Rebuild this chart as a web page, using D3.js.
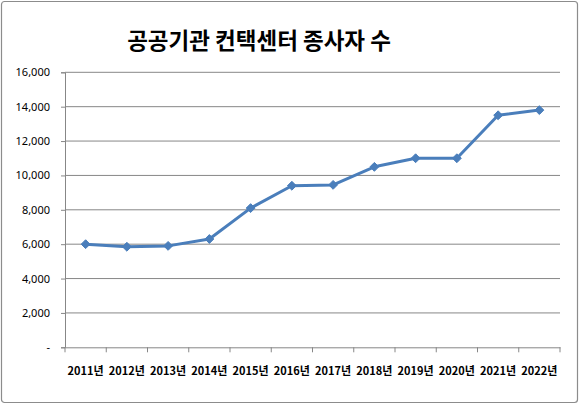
<!DOCTYPE html>
<html><head><meta charset="utf-8">
<script src="https://cdn.jsdelivr.net/npm/d3@7"></script>
<style>body{margin:0;background:#fff}svg{display:block}</style>
</head><body>
<svg id="c" width="580" height="405"></svg>
<script>
const years = ["2011년","2012년","2013년","2014년","2015년","2016년","2017년","2018년","2019년","2020년","2021년","2022년"];
const workers = [6000,5850,5900,6300,8100,9400,9450,10500,11000,11000,13500,13800];
const yTicks = [0,2000,4000,6000,8000,10000,12000,14000,16000];
const title = "공공기관 컨택센터 종사자 수";

const svg = d3.select("#c");
svg.append("rect").attr("x",1.5).attr("y",1.5).attr("width",576).attr("height",401)
  .attr("rx",3).attr("fill","#fff").attr("stroke","#8c8c8c").attr("stroke-width",1.2);

svg.append("text").attr("x",259).attr("y",49).attr("text-anchor","middle")
  .attr("font-family","'Noto Sans CJK KR'").attr("font-weight","bold").attr("font-size",22.5)
  .attr("fill","#000").text(title);

const L=65,R=560,T=72.3,B=347.3;
const x = d3.scaleBand().domain(years).range([L,R]);
const y = d3.scaleLinear().domain([0,16000]).range([B,T]);

const g = svg.append("g");
g.selectAll("line.grid").data(yTicks.filter(d=>d>0)).join("line")
  .attr("x1",L).attr("x2",R).attr("y1",d=>y(d)).attr("y2",d=>y(d))
  .attr("stroke","#878787").attr("stroke-width",1);

const yAxis = svg.append("g").attr("transform",`translate(${L},0)`)
  .call(d3.axisLeft(y).tickValues(yTicks).tickSize(4).tickPadding(11)
    .tickFormat(d=>d===0?"-":d3.format(",")(d)));
yAxis.selectAll("path,line").attr("stroke","#878787");
yAxis.selectAll("text").attr("font-family","'Noto Sans'").attr("font-size",11).attr("fill","#000");

const xAxis = svg.append("g").attr("transform",`translate(0,${B})`)
  .call(d3.axisBottom(x).tickSize(0).tickPadding(20));
xAxis.select("path").attr("stroke","#878787");
xAxis.selectAll("text").attr("font-family","'Noto Sans CJK KR'").attr("font-weight","bold")
  .attr("font-size",11).attr("fill","#000");
xAxis.selectAll("line.b").data(years.concat(["end"])).join("line").attr("class","b")
  .attr("x1",(d,i)=>L+i*x.bandwidth()).attr("x2",(d,i)=>L+i*x.bandwidth())
  .attr("y1",0).attr("y2",5).attr("stroke","#878787");

const cx = d=>x(d)+x.bandwidth()/2;
svg.append("path").datum(workers)
  .attr("d",d3.line().x((d,i)=>cx(years[i])).y(d=>y(d)))
  .attr("fill","none").attr("stroke","#4a7ebb").attr("stroke-width",3).attr("stroke-linejoin","round");
svg.selectAll("path.m").data(workers).join("path").attr("class","m")
  .attr("transform",(d,i)=>`translate(${cx(years[i])},${y(d)})`)
  .attr("d",d3.symbol(d3.symbolDiamond2,50)).attr("fill","#4a7ebb").attr("stroke","#4a7ebb");
</script>
</body></html>
